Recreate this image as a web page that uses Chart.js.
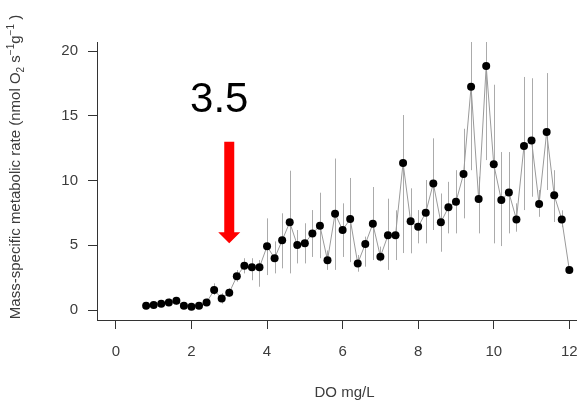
<!DOCTYPE html>
<html>
<head>
<meta charset="utf-8">
<title>Metabolic rate vs DO</title>
<script src="https://cdn.jsdelivr.net/npm/chart.js@4"></script>
<style>
  html, body {
    margin: 0;
    padding: 0;
    background: #ffffff;
    overflow: hidden;
  }
</style>
</head>
<body>
<canvas id="rate-chart" width="600" height="404"></canvas>
<script>
// Dissolved oxygen levels (mg/L)
const doLevels = [
  0.8, 1.0, 1.2, 1.4, 1.6, 1.8, 2.0, 2.2, 2.4, 2.6,
  2.8, 3.0, 3.2, 3.4, 3.6, 3.8, 4.0, 4.2, 4.4, 4.6,
  4.8, 5.0, 5.2, 5.4, 5.6, 5.8, 6.0, 6.2, 6.4, 6.6,
  6.8, 7.0, 7.2, 7.4, 7.6, 7.8, 8.0, 8.2, 8.4, 8.6,
  8.8, 9.0, 9.2, 9.4, 9.6, 9.8, 10.0, 10.2, 10.4, 10.6,
  10.8, 11.0, 11.2, 11.4, 11.6, 11.8, 12.0,
];

// Mean mass-specific metabolic rate at each DO level
const meanRate = [
  0.33, 0.39, 0.49, 0.59, 0.72, 0.33, 0.25, 0.33, 0.59, 1.54,
  0.9, 1.34, 2.6, 3.42, 3.3, 3.3, 4.92, 4.0, 5.38, 6.77,
  5.02, 5.15, 5.92, 6.51, 3.84, 7.44, 6.18, 7.03, 3.6, 5.1,
  6.66, 4.12, 5.77, 5.77, 11.35, 6.85, 6.43, 7.52, 9.78, 6.77,
  7.93, 8.36, 10.5, 17.24, 8.57, 18.84, 11.25, 8.49, 9.08, 7.0,
  12.66, 13.1, 8.18, 13.74, 8.86, 7.0, 3.09,
];

// Lower and upper ends of the error bars
const rateLow = [
  0.1, 0.2, 0.3, 0.3, 0.4, 0.1, 0.1, 0.1, 0.3, 1.16,
  0.5, 1.03, 2.19, 2.83, 2.3, 1.8, 2.7, 2.83, 3.22, 2.83,
  3.6, 3.6, 4.1, 4.0, 3.1, 3.1, 4.1, 3.7, 2.96, 3.35,
  3.86, 3.73, 3.1, 3.86, 4.4, 4.38, 5.15, 5.15, 6.18, 4.5,
  5.92, 5.92, 7.08, 10.8, 5.92, 11.58, 5.15, 4.94, 5.92, 6.05,
  7.72, 8.75, 7.2, 9.27, 6.8, 6.4, 3.09,
];
const rateHigh = [
  0.6, 0.6, 0.7, 0.9, 1.0, 0.6, 0.5, 0.6, 0.9, 2.06,
  1.3, 1.7, 3.09, 4.0, 4.0, 3.86, 7.08, 5.3, 7.47, 10.76,
  6.18, 6.7, 7.72, 9.06, 4.6, 11.7, 8.24, 10.2, 4.25, 5.67,
  9.5, 4.9, 8.6, 7.7, 15.06, 9.4, 7.72, 10.04, 13.26, 9.0,
  9.9, 10.8, 14.0, 20.7, 10.3, 20.7, 17.4, 12.2, 12.2, 8.24,
  18.0, 17.9, 9.27, 18.3, 10.8, 7.7, 3.09,
];

// Axis ticks
const xTicks = [0, 2, 4, 6, 8, 10, 12];
const yTicks = [0, 5, 10, 15, 20];

// Threshold marker: arrow at DO = 3.0, labelled 3.5
const markerDo = 3.0;
const markerTop = 13.0;
const markerTip = 5.15;
const markerLabel = "3.5";

const AXIS_COLOR = "#333333";
const TEXT_COLOR = "#3c3c3c";
const FONT = "'Liberation Sans', Arial, sans-serif";

// Vertical error bars, drawn underneath the points
const errorBarPlugin = {
  id: "errorBars",
  beforeDatasetsDraw(chart) {
    const { ctx, chartArea, scales } = chart;
    ctx.save();
    ctx.beginPath();
    ctx.rect(chartArea.left, chartArea.top, chartArea.right - chartArea.left, chartArea.bottom - chartArea.top);
    ctx.clip();
    ctx.strokeStyle = "#ababab";
    ctx.lineWidth = 1;
    doLevels.forEach((d, i) => {
      const x = Math.round(scales.x.getPixelForValue(d)) + 0.5;
      ctx.beginPath();
      ctx.moveTo(x, scales.y.getPixelForValue(rateLow[i]));
      ctx.lineTo(x, scales.y.getPixelForValue(rateHigh[i]));
      ctx.stroke();
    });
    ctx.restore();
  },
};

// Red arrow and its label
const markerPlugin = {
  id: "marker",
  afterDraw(chart) {
    const { ctx, scales } = chart;
    const x = scales.x.getPixelForValue(markerDo);
    const top = scales.y.getPixelForValue(markerTop);
    const tip = scales.y.getPixelForValue(markerTip);
    const shaft = 5;
    const head = 11;
    const headLen = 11;

    ctx.save();
    ctx.fillStyle = "#ff0000";
    ctx.beginPath();
    ctx.moveTo(x - shaft, top);
    ctx.lineTo(x + shaft, top);
    ctx.lineTo(x + shaft, tip - headLen);
    ctx.lineTo(x + head, tip - headLen);
    ctx.lineTo(x, tip);
    ctx.lineTo(x - head, tip - headLen);
    ctx.lineTo(x - shaft, tip - headLen);
    ctx.closePath();
    ctx.fill();

    ctx.fillStyle = "#000000";
    ctx.font = "42px " + FONT;
    ctx.textAlign = "center";
    ctx.textBaseline = "alphabetic";
    ctx.fillText(markerLabel, x - 10, top - 30);
    ctx.restore();
  },
};

// Rotated y-axis title with subscript / superscript parts
const yTitlePlugin = {
  id: "yTitle",
  afterDraw(chart) {
    const { ctx } = chart;
    const parts = [
      { text: "Mass-specific metabolic rate (nmol O", shift: 0 },
      { text: "2", shift: 4 },
      { text: " s", shift: 0 },
      { text: "\u22121", shift: -6 },
      { text: "g", shift: 0 },
      { text: "\u22121", shift: -6 },
      { text: " )", shift: 0 },
    ];
    const big = "15px " + FONT;
    const small = "10px " + FONT;

    ctx.save();
    let total = 0;
    parts.forEach((p) => {
      ctx.font = p.shift ? small : big;
      p.width = ctx.measureText(p.text).width;
      total += p.width;
    });

    ctx.translate(20, 167);
    ctx.rotate(-Math.PI / 2);
    ctx.fillStyle = TEXT_COLOR;
    ctx.textBaseline = "alphabetic";
    ctx.textAlign = "left";
    let pos = -total / 2;
    parts.forEach((p) => {
      ctx.font = p.shift ? small : big;
      ctx.fillText(p.text, pos, p.shift);
      pos += p.width;
    });
    ctx.restore();
  },
};

const ctx = document.getElementById("rate-chart").getContext("2d");

new Chart(ctx, {
  type: "line",
  data: {
    datasets: [
      {
        label: "Metabolic rate",
        data: doLevels.map((d, i) => ({ x: d, y: meanRate[i] })),
        borderColor: "#9a9a9a",
        borderWidth: 1,
        pointRadius: 4,
        pointBackgroundColor: "#000000",
        pointBorderWidth: 0,
        tension: 0,
        fill: false,
      },
    ],
  },
  options: {
    responsive: false,
    animation: false,
    devicePixelRatio: 1,
    layout: {
      padding: { top: 42, right: 8, left: 0, bottom: 0 },
    },
    plugins: {
      legend: { display: false },
      tooltip: { enabled: false },
    },
    scales: {
      x: {
        type: "linear",
        min: -0.5,
        max: 12.6,
        afterFit: (scale) => {
          scale.height = 84;
        },
        afterBuildTicks: (scale) => {
          scale.ticks = xTicks.map((v) => ({ value: v }));
        },
        border: { display: true, color: AXIS_COLOR, width: 1 },
        grid: {
          drawOnChartArea: false,
          drawTicks: true,
          tickLength: 9,
          color: AXIS_COLOR,
        },
        ticks: {
          color: TEXT_COLOR,
          padding: 14,
          maxRotation: 0,
          font: { family: FONT, size: 15 },
        },
        title: {
          display: true,
          text: "DO mg/L",
          color: TEXT_COLOR,
          font: { family: FONT, size: 15 },
          padding: { top: 0, bottom: 2 },
        },
      },
      y: {
        type: "linear",
        min: -0.77,
        max: 20.7,
        afterFit: (scale) => {
          scale.width = 97;
        },
        afterBuildTicks: (scale) => {
          scale.ticks = yTicks.map((v) => ({ value: v }));
        },
        border: { display: true, color: AXIS_COLOR, width: 1 },
        grid: {
          drawOnChartArea: false,
          drawTicks: true,
          tickLength: 9,
          color: AXIS_COLOR,
        },
        ticks: {
          color: TEXT_COLOR,
          padding: 10,
          font: { family: FONT, size: 15 },
        },
      },
    },
  },
  plugins: [errorBarPlugin, markerPlugin, yTitlePlugin],
});
</script>
</body>
</html>
